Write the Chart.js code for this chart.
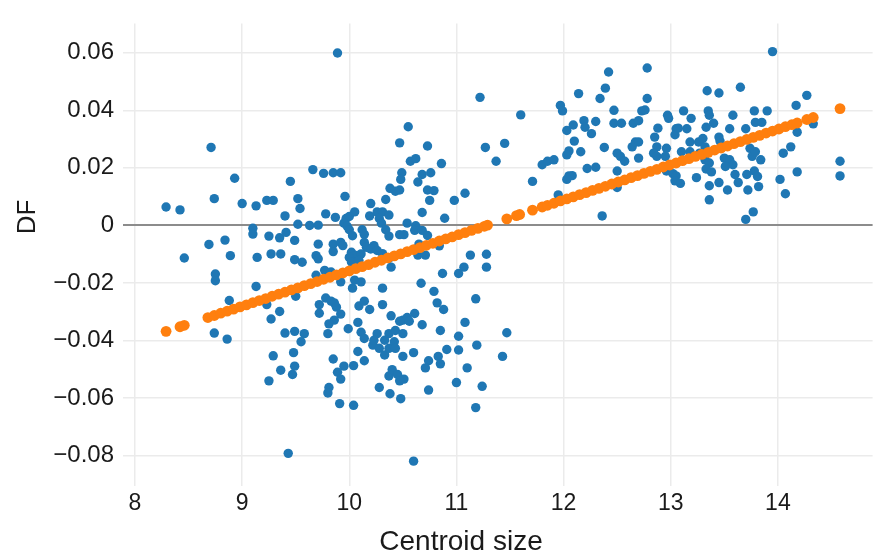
<!DOCTYPE html>
<html>
<head>
<meta charset="utf-8">
<script src="https://cdn.jsdelivr.net/npm/chart.js@4.4.1/dist/chart.umd.min.js"></script>
<style>
  html, body { margin: 0; padding: 0; background: #fff; }
  #wrap { width: 878px; height: 554px; }
</style>
</head>
<body>
<div id="wrap"><canvas id="chart" width="878" height="554"></canvas></div>
<script>
// observed specimens: centroid size vs DF score
const centroidSize = [
  8.29, 8.42, 8.71, 8.93, 8.74, 9.00, 9.13, 9.10, 9.10, 8.69, 8.84, 8.46, 8.89, 9.14, 8.75, 8.75, 9.13, 8.88, 8.74, 8.86,
  9.89, 9.66, 9.76, 9.85, 9.92, 9.45, 9.23, 9.29, 9.52, 9.54, 9.96, 9.40, 9.78, 9.87, 9.52, 9.63, 9.71, 9.97, 10.00, 10.05,
  9.95, 9.98, 10.20, 10.34, 10.38, 10.19, 10.26, 10.31, 10.37, 10.28, 10.30, 10.00, 10.03, 10.12, 10.14, 10.34, 10.37, 9.25, 9.35, 9.41,
  9.49, 9.71, 9.85, 9.92, 9.94, 10.14, 10.16, 10.23, 9.27, 9.36, 10.02, 10.06,
  9.49, 9.56, 9.69, 9.71, 9.85, 10.00, 10.02, 10.20, 10.26, 10.31, 10.37, 10.11, 10.09, 9.69, 9.77, 9.83, 9.50, 9.52, 9.23, 9.35,
  9.27, 9.72, 9.72, 9.78, 9.83, 9.86, 9.88, 9.92, 9.86, 9.81, 9.92, 10.03, 10.05, 10.11, 10.31, 10.09, 10.14, 10.19, 10.31, 10.39,
  10.08, 9.99, 9.40, 9.49, 9.58, 9.55, 9.80, 10.11, 10.14, 10.22, 10.26, 10.33, 10.37, 10.23, 10.28, 10.08, 10.14, 10.33, 10.37, 9.48,
  9.29, 9.49, 9.47, 9.36, 9.25, 9.85, 9.95, 9.89, 9.92, 10.04, 9.81, 9.80, 9.91, 10.04, 9.43, 10.28, 10.37, 10.38,
  11.22, 10.55, 10.47, 10.73, 11.27, 11.45, 11.37, 10.57, 10.62, 10.86, 10.49, 10.48, 10.68, 10.76, 10.64, 10.47, 10.43, 10.73, 10.79, 10.75,
  10.98, 11.08, 10.68, 10.89, 10.54, 10.62, 10.61, 10.68, 10.73, 10.47, 10.51, 10.65, 10.64, 10.71, 10.84,
  11.13, 11.28, 11.28, 11.07, 11.02, 10.87, 10.39, 10.67, 10.79, 10.82, 10.88, 11.18, 10.50, 10.54, 10.61, 10.56, 10.47, 10.43, 10.50, 10.68,
  10.85, 11.08, 11.02, 11.19, 11.47, 11.43, 10.42, 10.43, 10.50, 10.60, 10.91, 11.02, 10.74, 10.71, 10.83, 10.85, 11.10, 10.40, 10.45, 10.51,
  10.47, 11.00, 11.24, 10.74, 10.48, 11.18, 10.60,
  12.42, 12.39, 12.34, 12.14, 11.60, 11.97, 11.99, 12.03, 12.09, 12.19, 12.20, 12.30, 12.26, 12.10, 12.05, 12.03, 12.16, 11.80, 11.85, 11.91,
  12.22, 12.30, 12.05, 12.08, 12.03, 11.71, 11.95, 12.38, 12.47, 12.47, 12.54, 12.50, 12.53, 12.57, 12.50, 12.50, 12.36, 12.64, 12.67, 12.70,
  12.65, 12.70, 12.73, 12.70,
  12.78, 13.95, 12.78, 12.76, 12.85, 12.87, 12.84, 12.87, 12.88, 12.96, 12.95, 12.97, 12.98, 13.05, 13.04, 13.07, 13.12, 13.19, 13.15, 13.18,
  13.10, 13.18, 12.96, 13.02, 13.05, 13.04, 13.09, 13.34, 13.45, 13.65, 13.35, 13.36, 13.33, 13.40, 13.45, 13.46, 13.58, 13.55, 13.26, 13.30,
  13.32, 13.27, 13.32, 13.36, 13.33, 13.38, 13.24, 13.36, 13.45, 13.53, 13.36, 13.50, 13.55, 13.58, 13.51, 13.60, 13.63, 13.70, 13.78, 13.79,
  13.85, 13.90, 13.74, 13.76, 13.79, 13.84, 13.78, 13.71, 13.81, 13.82, 13.72, 13.77, 13.70, 14.02, 14.07, 14.05, 14.12, 14.18, 14.17, 14.27,
  14.33, 14.18, 14.58, 14.58
];
const dfValues = [
  0.0064, 0.0054, 0.0271, 0.0164, 0.0093, 0.0076, 0.0068, -0.0010, -0.0030, -0.0066, -0.0051, -0.0113, -0.0105, -0.0111, -0.0169, -0.0192, -0.0212, -0.0261, -0.0374, -0.0395,
  0.0599, 0.0194, 0.0181, 0.0183, 0.0183, 0.0153, 0.0087, 0.0087, 0.0093, 0.0059, 0.0101, 0.0033, 0.0040, 0.0028, 0.0004, 0.0000, 0.0001, 0.0024, 0.0031, 0.0047,
  0.0008, -0.0003, 0.0076, 0.0090, 0.0129, 0.0033, 0.0047, 0.0047, 0.0036, 0.0024, 0.0008, -0.0015, -0.0036, -0.0015, -0.0031, -0.0015, -0.0037, -0.0037, -0.0043, -0.0024,
  -0.0052, -0.0065, -0.0065, -0.0059, -0.0070, -0.0059, -0.0076, -0.0070, -0.0099, -0.0099, -0.0093, -0.0104,
  -0.0119, -0.0128, -0.0105, -0.0116, -0.0091, -0.0111, -0.0127, -0.0082, -0.0087, -0.0098, -0.0115, -0.0099, -0.0122, -0.0173, -0.0156, -0.0162, -0.0246, -0.0218, -0.0275, -0.0299,
  -0.0325, -0.0275, -0.0305, -0.0252, -0.0263, -0.0269, -0.0284, -0.0308, -0.0329, -0.0342, -0.0196, -0.0218, -0.0190, -0.0196, -0.0218, -0.0280, -0.0263, -0.0292, -0.0275, -0.0314,
  -0.0337, -0.0359, -0.0374, -0.0368, -0.0376, -0.0404, -0.0376, -0.0371, -0.0393, -0.0416, -0.0376, -0.0399, -0.0376, -0.0399, -0.0427, -0.0438, -0.0470, -0.0450, -0.0427, -0.0442,
  -0.0453, -0.0489, -0.0518, -0.0503, -0.0540, -0.0464, -0.0489, -0.0510, -0.0534, -0.0487, -0.0563, -0.0582, -0.0619, -0.0625, -0.0792, -0.0563, -0.0523, -0.0585,
  0.0445, 0.0343, 0.0287, 0.0276, 0.0271, 0.0285, 0.0223, 0.0223, 0.0232, 0.0215, 0.0183, 0.0160, 0.0177, 0.0183, 0.0151, 0.0123, 0.0119, 0.0123, 0.0121, 0.0087,
  0.0087, 0.0112, 0.0045, 0.0025, 0.0008, -0.0001, -0.0017, -0.0017, -0.0035, -0.0032, -0.0032, -0.0065, -0.0103, -0.0103, -0.0071,
  -0.0103, -0.0100, -0.0145, -0.0145, -0.0167, -0.0167, -0.0145, -0.0201, -0.0229, -0.0269, -0.0292, -0.0255, -0.0329, -0.0320, -0.0306, -0.0333, -0.0333, -0.0365, -0.0376, -0.0345,
  -0.0365, -0.0337, -0.0385, -0.0416, -0.0373, -0.0455, -0.0404, -0.0427, -0.0455, -0.0442, -0.0431, -0.0433, -0.0470, -0.0495, -0.0455, -0.0481, -0.0495, -0.0501, -0.0518, -0.0534,
  -0.0540, -0.0546, -0.0559, -0.0572, -0.0602, -0.0633, -0.0819,
  0.0533, 0.0477, 0.0441, 0.0458, 0.0384, 0.0417, 0.0398, 0.0330, 0.0349, 0.0364, 0.0341, 0.0361, 0.0319, 0.0293, 0.0259, 0.0245, 0.0256, 0.0211, 0.0223, 0.0228,
  0.0198, 0.0202, 0.0172, 0.0173, 0.0160, 0.0153, 0.0106, 0.0271, 0.0400, 0.0355, 0.0355, 0.0251, 0.0240, 0.0223, 0.0189, 0.0132, 0.0033, 0.0273, 0.0290, 0.0290,
  0.0355, 0.0364, 0.0398, 0.0234,
  0.0547, 0.0604, 0.0441, 0.0401, 0.0307, 0.0273, 0.0251, 0.0240, 0.0338, 0.0268, 0.0240, 0.0383, 0.0372, 0.0336, 0.0315, 0.0338, 0.0398, 0.0372, 0.0336, 0.0290,
  0.0256, 0.0256, 0.0189, 0.0180, 0.0172, 0.0155, 0.0146, 0.0468, 0.0460, 0.0480, 0.0398, 0.0383, 0.0341, 0.0355, 0.0307, 0.0293, 0.0383, 0.0336, 0.0290, 0.0302,
  0.0273, 0.0251, 0.0228, 0.0217, 0.0196, 0.0186, 0.0166, 0.0138, 0.0149, 0.0123, 0.0089, 0.0234, 0.0228, 0.0211, 0.0205, 0.0177, 0.0149, 0.0336, 0.0398, 0.0358,
  0.0358, 0.0398, 0.0268, 0.0240, 0.0256, 0.0228, 0.0189, 0.0177, 0.0170, 0.0135, 0.0123, 0.0047, 0.0021, 0.0160, 0.0110, 0.0251, 0.0273, 0.0324, 0.0417, 0.0452,
  0.0353, 0.0186, 0.0223, 0.0172
];

// fitted values (orange)
const fitSize = [
  8.29, 8.42, 8.46, 8.68, 8.74, 8.80, 8.86, 8.92, 8.98, 9.04, 9.10, 9.16, 9.22, 9.28, 9.34, 9.40, 9.46, 9.52, 9.58, 9.64,
  9.70, 9.76, 9.82, 9.88, 9.94, 10.00, 10.06, 10.12, 10.18, 10.24, 10.30, 10.36, 10.42, 10.48, 10.54, 10.60, 10.66, 10.72, 10.78, 10.84,
  10.90, 10.96, 11.02, 11.08, 11.14, 11.20, 11.26, 11.29, 11.47, 11.56, 11.59, 11.71, 11.80, 11.85, 11.91, 11.97, 12.03, 12.09, 12.15, 12.21,
  12.27, 12.33, 12.39, 12.45, 12.51, 12.57, 12.63, 12.69, 12.75, 12.81, 12.87, 12.93, 12.99, 13.05, 13.11, 13.17, 13.23, 13.29, 13.35, 13.41,
  13.47, 13.53, 13.59, 13.65, 13.71, 13.77, 13.83, 13.89, 13.95, 14.01, 14.07, 14.13, 14.18, 14.27, 14.33, 14.58
];
const fitDF = [
  -0.0368, -0.0352, -0.0347, -0.0320, -0.0313, -0.0305, -0.0298, -0.0291, -0.0283, -0.0276, -0.0268, -0.0261, -0.0254, -0.0246, -0.0239, -0.0232, -0.0224, -0.0217, -0.0209, -0.0202,
  -0.0195, -0.0187, -0.0180, -0.0172, -0.0165, -0.0158, -0.0150, -0.0143, -0.0136, -0.0128, -0.0121, -0.0113, -0.0106, -0.0099, -0.0091, -0.0084, -0.0077, -0.0069, -0.0062, -0.0054,
  -0.0047, -0.0040, -0.0032, -0.0025, -0.0017, -0.0010, -0.0003, 0.0001, 0.0023, 0.0034, 0.0038, 0.0053, 0.0064, 0.0070, 0.0077, 0.0085, 0.0092, 0.0099, 0.0107, 0.0114,
  0.0122, 0.0129, 0.0136, 0.0144, 0.0151, 0.0158, 0.0166, 0.0173, 0.0181, 0.0188, 0.0195, 0.0203, 0.0210, 0.0217, 0.0225, 0.0232, 0.0240, 0.0247, 0.0254, 0.0262,
  0.0269, 0.0276, 0.0284, 0.0291, 0.0299, 0.0306, 0.0313, 0.0321, 0.0328, 0.0335, 0.0343, 0.0350, 0.0356, 0.0368, 0.0375, 0.0406
];

const xTicks = [8, 9, 10, 11, 12, 13, 14];
const yTicks = [-0.08, -0.06, -0.04, -0.02, 0, 0.02, 0.04, 0.06];

const FONT = '"Liberation Sans", Arial, Helvetica, sans-serif';
const TEXT = '#1a1a1a';
const toPoints = (xs, ys) => xs.map((x, i) => ({ x: x, y: ys[i] }));

// axis titles sit off-centre in the original, so draw them by hand
const axisTitles = {
    id: 'axisTitles',
    afterDraw(chart) {
        const c = chart.ctx;
        c.save();
        c.fillStyle = TEXT;
        c.textAlign = 'center';
        c.textBaseline = 'middle';
        c.font = '28px ' + FONT;
        c.fillText('Centroid size', 461, 542);
        c.translate(28, 217);
        c.rotate(-Math.PI / 2);
        c.font = '26px ' + FONT;
        c.fillText('DF', 0, 0);
        c.restore();
    }
};

new Chart(document.getElementById('chart'), {
    type: 'scatter',
    data: {
        datasets: [
            {
                label: 'Fitted',
                data: toPoints(fitSize, fitDF),
                backgroundColor: '#ff7f0e',
                pointRadius: 5.4,
                pointHoverRadius: 5.4,
                pointBorderWidth: 0,
                order: 0
            },
            {
                label: 'DF',
                data: toPoints(centroidSize, dfValues),
                backgroundColor: '#1f77b4',
                pointRadius: 4.7,
                pointHoverRadius: 4.7,
                pointBorderWidth: 0,
                order: 1
            }
        ]
    },
    options: {
        responsive: false,
        animation: false,
        devicePixelRatio: 1,
        layout: { padding: { top: 12, right: 3, left: 0, bottom: 0 } },
        plugins: { legend: { display: false }, tooltip: { enabled: false } },
        scales: {
            x: {
                type: 'linear',
                min: 7.888,
                max: 14.884,
                afterBuildTicks: ax => { ax.ticks = xTicks.map(v => ({ value: v })); },
                afterFit: ax => { ax.height = 73; },
                border: { display: false },
                grid: { color: '#ebebeb', lineWidth: 1.5, drawTicks: true, tickLength: 5, tickColor: '#ebebeb' },
                ticks: { padding: 4, color: TEXT, font: { family: FONT, size: 23 }, callback: v => String(v) },
                title: { display: false }
            },
            y: {
                min: -0.0888,
                max: 0.0702,
                afterBuildTicks: ax => { ax.ticks = yTicks.map(v => ({ value: v })); },
                afterFit: ax => { ax.width = 123; },
                border: { display: false },
                grid: {
                    drawTicks: false,
                    color: ctx => (ctx.tick && ctx.tick.value === 0) ? '#8c8c8c' : '#ebebeb',
                    lineWidth: ctx => (ctx.tick && ctx.tick.value === 0) ? 2 : 1.5
                },
                ticks: {
                    padding: 9, color: TEXT, font: { family: FONT, size: 24 },
                    callback: v => v === 0 ? '0' : v.toFixed(2).replace('-', '\u2212')
                },
                title: { display: false }
            }
        }
    },
    plugins: [axisTitles]
});
</script>
</body>
</html>
